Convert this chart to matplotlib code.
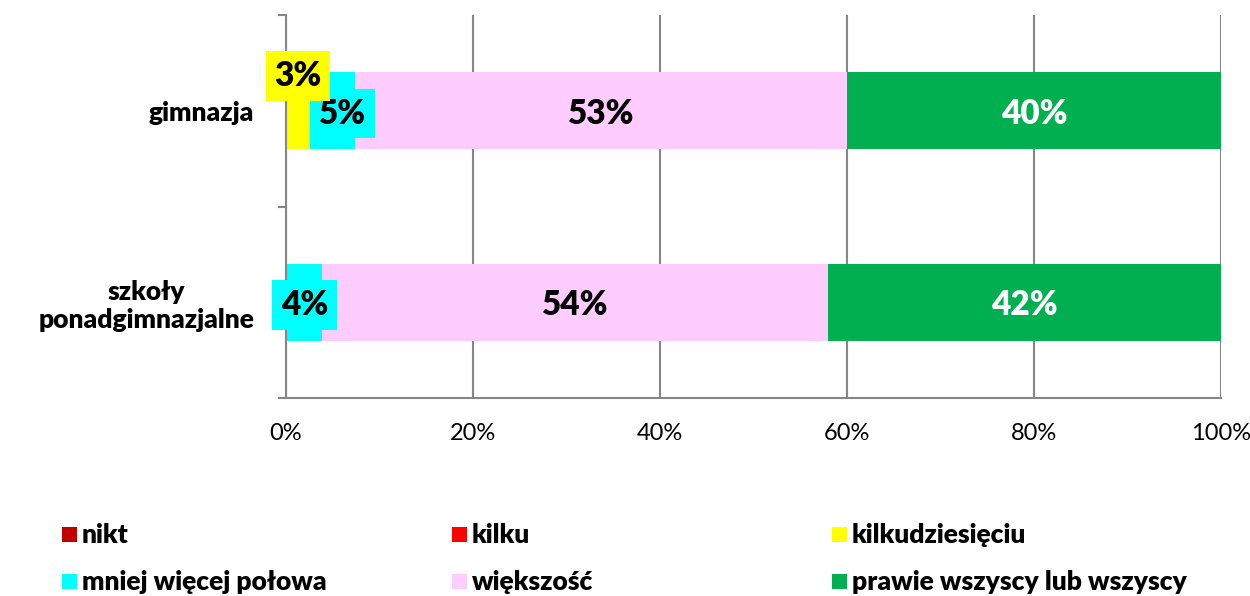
import matplotlib.pyplot as plt
from matplotlib.patches import Rectangle

plt.rcParams['font.family'] = ['Lato', 'DejaVu Sans']

categories = ['gimnazja', 'szkoły\nponadgimnazjalne']
series = ['nikt', 'kilku', 'kilkudziesięciu', 'mniej więcej połowa',
          'większość', 'prawie wszyscy lub wszyscy']
colors = ['#C00000', '#FF0000', '#FFFF00', '#00FFFF', '#FFCCFF', '#00B050']
label_colors = ['black', 'black', 'black', 'black', 'black', 'white']

gimnazja = [0.0, 0.0, 2.6, 4.8, 52.6, 40.0]
ponadgimnazjalne = [0.0, 0.0, 0.0, 3.9, 54.1, 42.0]
values = [gimnazja, ponadgimnazjalne]

xticks = [0, 20, 40, 60, 80, 100]
xtick_labels = ['0%', '20%', '40%', '60%', '80%', '100%']

# small labels that would collide get nudged (points)
nudge = {(0, 2): (0, 27), (0, 3): (7, 0)}

fig = plt.figure(figsize=(12.5, 5.96), dpi=100)
ax = fig.add_axes([0.2288, 0.3322, 0.748, 0.6426])

for r, row in enumerate(values):
    left = 0.0
    for s, v in enumerate(row):
        if v > 0:
            ax.barh(r, v, left=left, height=0.4, color=colors[s], zorder=2)
            dx, dy = nudge.get((r, s), (0, 0))
            box = None
            if v < 10:
                box = dict(boxstyle='square,pad=0.26', fc=colors[s], ec='none')
            ax.annotate(f'{v:.0f}%', (left + v / 2, r), xytext=(dx, dy - 2),
                        textcoords='offset points', ha='center', va='center',
                        fontsize=24, fontweight='heavy', color=label_colors[s],
                        bbox=box, zorder=7 if s == 2 else 6)
        left += v

ax.set_xlim(0, 100)
ax.set_ylim(1.5, -0.5)
ax.set_xticks(xticks)
ax.set_xticklabels(xtick_labels, fontsize=17)
ax.tick_params(axis='x', length=0, pad=18)

ax.set_yticks([-0.5, 0.5, 1.5])
ax.set_yticklabels([])
ax.tick_params(axis='y', which='major', length=6, width=1.5, color='#868686')
ax.set_yticks([0, 1], minor=True)
ax.set_yticklabels(categories, minor=True, fontsize=19, fontweight='heavy',
                   multialignment='center')
ax.tick_params(axis='y', which='minor', length=0, pad=23)

ax.grid(axis='x', color='#868686', linewidth=1.5, zorder=1)
for side in ['top', 'right']:
    ax.spines[side].set_visible(False)
for side in ['left', 'bottom']:
    ax.spines[side].set_color('#868686')
    ax.spines[side].set_linewidth(1.5)
    ax.spines[side].set_zorder(5)

# legend laid out in three columns, two rows
col_x = [62, 452, 832]
row_y = [535, 582]
W, H = 1250, 596
for i, name in enumerate(series):
    x = col_x[i % 3]
    y = row_y[i // 3]
    fig.add_artist(Rectangle((x / W, (H - y - 7) / H), 15 / W, 15 / H,
                             transform=fig.transFigure, fc=colors[i], ec='none'))
    fig.text((x + 20) / W, (H - y) / H, name, fontsize=19, fontweight='heavy',
             va='center', ha='left')

fig.savefig('out.png', dpi=100)
